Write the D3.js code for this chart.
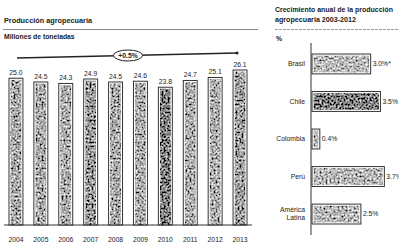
<!DOCTYPE html>
<html lang="es">
<head>
<meta charset="UTF-8">
<title>Producción agropecuaria</title>
<script src="https://d3js.org/d3.v7.min.js"></script>
<style>
  body { margin: 0; background: #fff; }
  svg text { font-family: "Liberation Sans Narrow", "Liberation Sans", Arial, sans-serif; fill: #222; }
  .title { font-weight: bold; font-size: 7.3px; }
  .small { font-size: 6.8px; }
</style>
</head>
<body>
<div id="chart"></div>
<script>
// left panel: yearly production (millions of tonnes)
const years = ["2004","2005","2006","2007","2008","2009","2010","2011","2012","2013"];
const production = [25.0, 24.5, 24.3, 24.9, 24.5, 24.6, 23.8, 24.7, 25.1, 26.1];
const trendLabel = "+0.5%";

// right panel: annual growth 2003-2012 (%)
const countries = ["Brasil", "Chile", "Colombia", "Perú", "América Latina"];
const growth = [3.0, 3.5, 0.4, 3.7, 2.5];
const growthLabels = ["3.0%*", "3.5%", "0.4%", "3.7%", "2.5%"];
const shades = [0.5, 0.22, 0.45, 0.48, 0.48];
const barShades = [0.4, 0.4, 0.42, 0.32, 0.4, 0.42, 0.22, 0.42, 0.42, 0.35];

const W = 399, H = 244;
const svg = d3.select("#chart").append("svg").attr("width", W).attr("height", H);
const defs = svg.append("defs");

// mottled grey texture
function texture(id, level, seed) {
  const f = defs.append("filter").attr("id", id)
    .attr("x", 0).attr("y", 0).attr("width", 1).attr("height", 1);
  f.append("feTurbulence").attr("type", "fractalNoise").attr("baseFrequency", 0.5)
    .attr("numOctaves", 3).attr("seed", seed).attr("result", "n");
  const a = 1.8, b = level - a * 0.5;
  f.append("feColorMatrix").attr("in", "n").attr("type", "matrix")
    .attr("values", `${a} 0 0 0 ${b} ${a} 0 0 0 ${b} ${a} 0 0 0 ${b} 0 0 0 0 1`)
    .attr("result", "g");
  f.append("feComposite").attr("in", "g").attr("in2", "SourceGraphic").attr("operator", "in");
}

// ---------- left panel ----------
svg.append("text").attr("class", "title").attr("x", 4).attr("y", 23).text("Producción agropecuaria");
svg.append("line").attr("x1", 3).attr("x2", 258).attr("y1", 29.5).attr("y2", 29.5)
  .attr("stroke", "#888").attr("stroke-width", 1.2);
svg.append("text").attr("class", "small").attr("x", 4).attr("y", 39).style("font-weight", "bold")
  .text("Millones de toneladas");

const x = d3.scaleBand().domain(years).range([6.5, 249.5]).paddingInner(0.44).paddingOuter(0.1);
const baseY = 225;
const y = d3.scaleLinear().domain([5.4, 26.1]).range([baseY, 70]);

years.forEach((yr, i) => texture("tl" + i, barShades[i], i + 2));

const bars = svg.append("g").selectAll("g").data(years).join("g");
bars.append("rect")
  .attr("x", d => x(d)).attr("width", x.bandwidth())
  .attr("y", (d, i) => y(production[i])).attr("height", (d, i) => baseY - y(production[i]))
  .attr("fill", "#fff").attr("stroke", "#333").attr("stroke-width", 1);
bars.append("rect")
  .attr("x", d => x(d) + 1.6).attr("width", x.bandwidth() - 3.2)
  .attr("y", (d, i) => y(production[i]) + 1.6).attr("height", (d, i) => baseY - y(production[i]) - 1.6)
  .attr("fill", "#000").attr("filter", (d, i) => `url(#tl${i})`);
bars.append("text").attr("class", "small").attr("text-anchor", "middle")
  .attr("x", d => x(d) + x.bandwidth() / 2)
  .attr("y", (d, i) => y(production[i]) - 3)
  .text((d, i) => production[i].toFixed(1));

svg.append("line").attr("x1", 4).attr("x2", 252).attr("y1", baseY).attr("y2", baseY)
  .attr("stroke", "#333").attr("stroke-width", 1);

const xAxis = svg.append("g").attr("transform", `translate(0,${baseY})`)
  .call(d3.axisBottom(x).tickSize(0).tickPadding(12));
xAxis.select(".domain").remove();
xAxis.selectAll("text").attr("class", "small").style("font-size", "6.8px")
  .style("font-family", "'Liberation Sans Narrow','Liberation Sans',Arial,sans-serif");

// trend annotation
const tx0 = x(years[0]) + 8, tx1 = x(years[years.length - 1]) + x.bandwidth() / 2 - 3;
const ty0 = 58, ty1 = 53;
svg.append("line").attr("x1", tx0).attr("y1", ty0).attr("x2", tx1).attr("y2", ty1)
  .attr("stroke", "#222").attr("stroke-width", 1.3);
svg.append("circle").attr("cx", tx1).attr("cy", ty1).attr("r", 1.5).attr("fill", "#222");
const ox = 128, oy = ty0 + (ty1 - ty0) * (ox - tx0) / (tx1 - tx0);
svg.append("ellipse").attr("cx", ox).attr("cy", oy).attr("rx", 14.5).attr("ry", 5.5)
  .attr("fill", "#fff").attr("stroke", "#222").attr("stroke-width", 1);
svg.append("text").attr("class", "small").attr("text-anchor", "middle")
  .attr("x", ox).attr("y", oy + 2.4).style("font-weight", "bold").text(trendLabel);

// ---------- right panel ----------
svg.append("text").attr("class", "title").attr("x", 275).attr("y", 12)
  .attr("textLength", 118).attr("lengthAdjust", "spacingAndGlyphs").text("Crecimiento anual de la producción");
svg.append("text").attr("class", "title").attr("x", 275).attr("y", 22)
  .attr("textLength", 81).attr("lengthAdjust", "spacingAndGlyphs").text("agropecuaria 2003-2012");
svg.append("line").attr("x1", 275).attr("x2", 399).attr("y1", 29.5).attr("y2", 29.5)
  .attr("stroke", "#999").attr("stroke-width", 1).attr("stroke-dasharray", "3,1");
svg.append("text").attr("class", "small").attr("x", 276).attr("y", 41).style("font-weight", "bold").text("%");

const gx = d3.scaleLinear().domain([0, 4.5]).range([312, 400]);
const gy = d3.scaleBand().domain(countries).range([45, 233]).paddingInner(0.47).paddingOuter(0.24);

countries.forEach((c, i) => texture("tr" + i, shades[i], i + 20));

const hb = svg.append("g").selectAll("g").data(countries).join("g");
hb.append("rect")
  .attr("x", gx(0)).attr("y", d => gy(d))
  .attr("width", (d, i) => gx(growth[i]) - gx(0)).attr("height", gy.bandwidth())
  .attr("fill", "#fff").attr("stroke", "#333").attr("stroke-width", 1);
hb.append("rect")
  .attr("x", gx(0) + 1.6).attr("y", d => gy(d) + 1.6)
  .attr("width", (d, i) => Math.max(1, gx(growth[i]) - gx(0) - 3.2)).attr("height", gy.bandwidth() - 3.2)
  .attr("fill", "#000").attr("filter", (d, i) => `url(#tr${i})`);
hb.append("text").attr("class", "small")
  .attr("x", (d, i) => gx(growth[i]) + 2)
  .attr("y", d => gy(d) + gy.bandwidth() / 2 + 2.4)
  .text((d, i) => growthLabels[i]);

const yAxis = svg.append("g").attr("transform", `translate(${gx(0) - 1},0)`)
  .call(d3.axisLeft(gy).tickSize(0).tickPadding(6));
yAxis.select(".domain").remove();
yAxis.selectAll("text").attr("class", "small").style("font-size", "6.8px")
  .style("font-family", "'Liberation Sans Narrow','Liberation Sans',Arial,sans-serif")
  .each(function(d) {
    const words = d.split(" ");
    if (words.length > 1) {
      const t = d3.select(this).text(null);
      words.forEach((w, k) => t.append("tspan").attr("x", -6)
        .attr("dy", k === 0 ? "-0.25em" : "1.1em").text(w));
    }
  });
svg.append("line").attr("x1", gx(0) - 1).attr("x2", gx(0) - 1).attr("y1", 43).attr("y2", 235)
  .attr("stroke", "#333").attr("stroke-width", 1);
</script>
</body>
</html>
